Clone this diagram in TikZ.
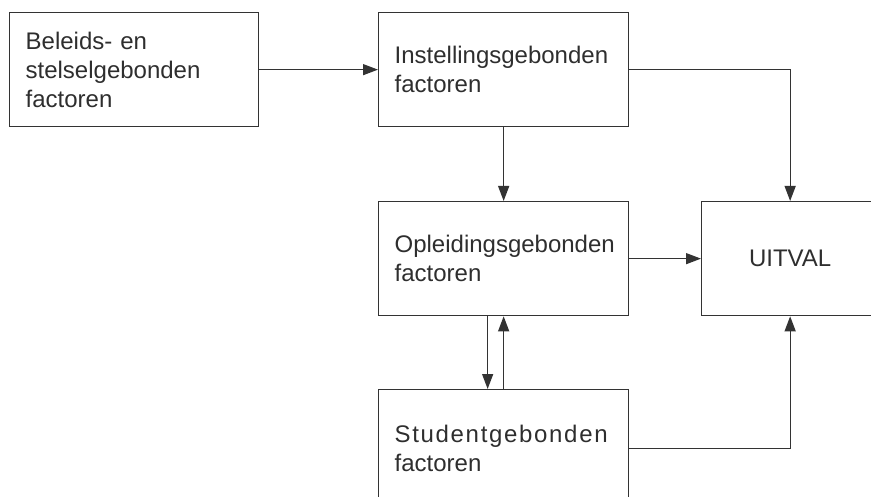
\documentclass[tikz,border=0pt]{standalone}
\usepackage{fontspec}
\setmainfont{Liberation Sans}
\usepackage{tikz}
\usetikzlibrary{arrows.meta,positioning}
\usepackage{xcolor}

\definecolor{linegray}{HTML}{333333}
\definecolor{textgray}{HTML}{2E2E2E}

\tikzset{
  factorbox/.style={draw=linegray, line width=1.3pt, rectangle, anchor=north west,
    minimum height=114pt, minimum width=250pt, inner xsep=16pt, inner ysep=0pt,
    text width=218pt, align=left, text=textgray, font=\fontsize{24}{29}\selectfont},
  flow/.style={draw=linegray, line width=1.3pt, -{Triangle[length=15pt,width=11pt]}}
}

\begin{document}
\begin{tikzpicture}[x=1pt, y=-1pt]
    \clip (0,0) rectangle (871,497);

    \coordinate (BS) at (9, 12);
    \coordinate (IN) at (378, 12);
    \coordinate (OP) at (378, 201);
    \coordinate (UI) at (701, 201);
    \coordinate (ST) at (378, 389);

    \node [factorbox, minimum width=249pt, text width=217pt] (beleid) at (BS) {Beleids- en\\stelselgebonden\\factoren};
    \node [factorbox] (instelling) at (IN) {Instellingsgebonden\\factoren};
    \node [factorbox] (opleiding) at (OP) {Opleidingsgebonden\\factoren};
    \node [factorbox, minimum width=177pt, text width=145pt, align=center] (uitval) at (UI) {UITVAL};
    \node [factorbox, minimum height=118pt] (student) at (ST) {{\addfontfeature{LetterSpace=7}Studentgebonden}\\factoren};

    \draw [flow] (beleid.east) to (instelling.west);
    \draw [flow] (instelling.east) -| (uitval.north);
    \draw [flow] (instelling.south) to (opleiding.north);
    \draw [flow] (opleiding.east) to (uitval.west);

    \draw [flow] ([xshift=-16pt]opleiding.south) to ([xshift=-16pt]student.north);
    \draw [flow] (student.north) to (opleiding.south);
    \draw [flow] (student.east) -| (uitval.south);
  \end{tikzpicture}
\end{document}
